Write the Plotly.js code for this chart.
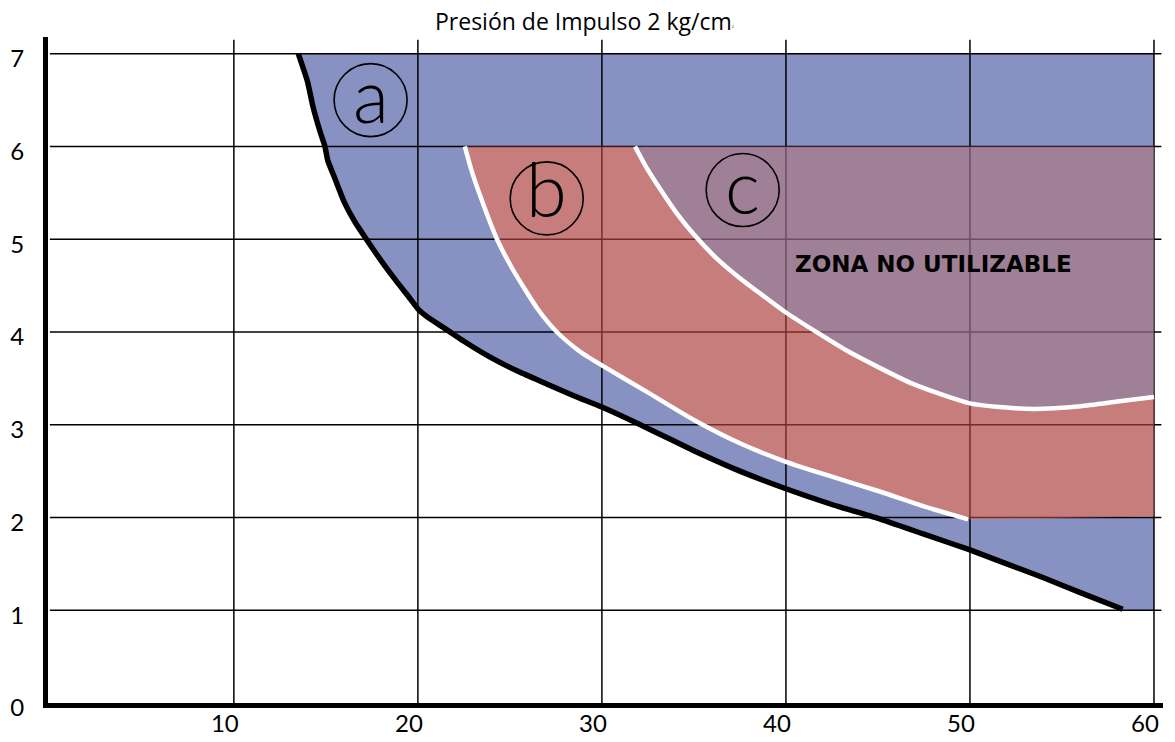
<!DOCTYPE html>
<html>
<head>
<meta charset="utf-8">
<script src="https://cdn.plot.ly/plotly-3.0.1.min.js"></script>
<style>html,body{margin:0;padding:0;background:#fff;}#chart{width:1175px;height:742px;}</style>
</head>
<body>
<div id="chart"></div>
<script>
// ---- Data ----
// Black boundary curve (lower limit of zone a)
const limiteX = [13.5, 14.0, 14.3, 14.7, 14.95, 15.1, 15.5, 16.0, 16.6, 17.2, 18.0, 18.86, 19.5, 20.0, 20.6, 21.6, 22.5, 24.0, 25.5, 27.0, 28.5, 30.0, 32.5, 35.0, 37.5, 40.0, 42.5, 45.0, 47.5, 50.0, 52.0, 54.0, 56.0, 58.3];
const limiteY = [7.0, 6.7, 6.43, 6.15, 6.0, 5.85, 5.65, 5.4, 5.18, 5.0, 4.77, 4.54, 4.38, 4.25, 4.15, 4.02, 3.90, 3.72, 3.57, 3.44, 3.31, 3.19, 2.96, 2.72, 2.50, 2.31, 2.14, 1.99, 1.82, 1.65, 1.50, 1.35, 1.19, 1.01];
// White curve between zone a and zone b
const curvaBX = [22.55, 22.9, 23.4, 24.3, 25.2, 26.5, 27.55, 28.8, 30.0, 32.4, 35.1, 37.5, 40.0, 42.5, 45.1, 47.5, 49.9];
const curvaBY = [6.0, 5.75, 5.46, 5.0, 4.66, 4.25, 4.0, 3.79, 3.64, 3.36, 3.04, 2.80, 2.60, 2.44, 2.28, 2.12, 1.98];
// Lower edge of zone b after the white curve ends
const bordeBX = [50.0, 60.0];
const bordeBY = [1.98, 2.01];
// White curve between zone b and zone c
const curvaCX = [31.8, 32.4, 33.2, 34.1, 35.0, 36.2, 37.5, 38.7, 40.0, 43.3, 46.9, 50.0, 51.6, 53.5, 56.0, 58.0, 60.0];
const curvaCY = [6.0, 5.78, 5.53, 5.27, 5.05, 4.80, 4.58, 4.40, 4.21, 3.80, 3.44, 3.23, 3.19, 3.17, 3.20, 3.25, 3.30];
// Zone limits
const zonaTopA = 7;
const zonaTopBC = 6;
const xMax = 60;
const yBaseA = 1.0;
// Ticks
const xTicks = [10, 20, 30, 40, 50, 60];
const xTickText = ['10', '20', '30', '40', '50', '60'];
const yTicks = [0, 1, 2, 3, 4, 5, 6, 7];
const yTickText = ['0', '1', '2', '3', '4', '5', '6', '7'];
// Labels
const etiquetas = ['a', 'b', 'c'];
const titulo = 'Presión de Impulso 2 kg/cm<span style="font-size:5px"><sup>2</sup></span>';
const zonaTexto = 'ZONA NO UTILIZABLE';

// ---- Build polygons ----
const rev = a => a.slice().reverse();
const last = a => a[a.length - 1];

// Zone a (blue)
const aX = [limiteX[0], xMax, xMax, curvaBX[0]].concat(curvaBX, bordeBX, [xMax, last(limiteX)], rev(limiteX));
const aY = [zonaTopA, zonaTopA, zonaTopBC, zonaTopBC].concat(curvaBY, bordeBY, [yBaseA, yBaseA], rev(limiteY));
// Zone b (red)
const bX = curvaBX.concat(bordeBX, [last(curvaCX)], rev(curvaCX), [curvaBX[0]]);
const bY = curvaBY.concat(bordeBY, [last(curvaCY)], rev(curvaCY), [curvaBY[0]]);
// Zone c (purple)
const cX = [curvaCX[0], xMax].concat(rev(curvaCX));
const cY = [zonaTopBC, zonaTopBC].concat(rev(curvaCY));

// Grid lines (drawn over zone a, under zones b and c)
const gX = [], gY = [];
xTicks.forEach(v => { gX.push(v, v, null); gY.push(0, 7.15, null); });
yTicks.filter(v => v > 0).forEach(v => { gX.push(0, 60.4, null); gY.push(v, v, null); });

const traces = [
  {x: aX, y: aY, type: 'scatter', mode: 'lines', fill: 'toself', fillcolor: '#8791c2', line: {width: 0, color: '#8791c2'}, hoverinfo: 'skip', showlegend: false},
  {x: gX, y: gY, type: 'scatter', mode: 'lines', line: {width: 1.5, color: '#000'}, hoverinfo: 'skip', showlegend: false},
  {x: bX, y: bY, type: 'scatter', mode: 'lines', fill: 'toself', fillcolor: 'rgba(172,64,60,0.68)', line: {width: 0}, hoverinfo: 'skip', showlegend: false},
  {x: cX, y: cY, type: 'scatter', mode: 'lines', fill: 'toself', fillcolor: 'rgba(136,96,124,0.8)', line: {width: 0}, hoverinfo: 'skip', showlegend: false},
  {x: curvaBX, y: curvaBY, type: 'scatter', mode: 'lines', line: {width: 4.5, color: '#fff', shape: 'spline', smoothing: 0.6}, hoverinfo: 'skip', showlegend: false},
  {x: curvaCX, y: curvaCY, type: 'scatter', mode: 'lines', line: {width: 4.5, color: '#fff', shape: 'spline', smoothing: 0.6}, hoverinfo: 'skip', showlegend: false},
  {x: limiteX, y: limiteY, type: 'scatter', mode: 'lines', line: {width: 5.5, color: '#000', shape: 'spline', smoothing: 0.5}, hoverinfo: 'skip', showlegend: false}
];

const labelPos = [[17.43, 6.50], [27.0, 5.44], [37.65, 5.53]];
const labelShift = [6, 10, 5];
const shapes = labelPos.map(p => ({
  type: 'circle', xref: 'x', yref: 'y', xsizemode: 'pixel', ysizemode: 'pixel',
  xanchor: p[0], yanchor: p[1], x0: -36.5, x1: 36.5, y0: -36.5, y1: 36.5,
  line: {color: '#000', width: 1.6}, layer: 'above'
}));
const annotations = etiquetas.map((t, i) => ({
  x: labelPos[i][0], y: labelPos[i][1], xref: 'x', yref: 'y', text: t, showarrow: false,
  xanchor: 'center', yanchor: 'middle', yshift: labelShift[i],
  font: {family: 'Lato', size: 74, color: '#000', weight: 300}
}));
annotations.push({
  x: 48.0, y: 4.73, xref: 'x', yref: 'y', text: zonaTexto, showarrow: false,
  xanchor: 'center', yanchor: 'middle', font: {family: 'DejaVu Sans', size: 23, color: '#000', weight: 'bold'}
});

const layout = {
  width: 1175, height: 742,
  margin: {l: 48, r: 12, t: 37, b: 39, pad: 0},
  paper_bgcolor: '#fff', plot_bgcolor: '#fff',
  font: {family: 'Lato', color: '#000'},
  title: {text: titulo, x: 435 / 1175, xref: 'container', xanchor: 'left', y: 1 - 22 / 742, yref: 'container', yanchor: 'middle', font: {family: 'Open Sans', size: 23, color: '#000'}},
  xaxis: {range: [-0.1, 60.49], showgrid: false, zeroline: false, showline: true, linewidth: 5, linecolor: '#000',
    tickvals: xTicks, ticktext: xTickText, ticks: '', ticklabelshift: -9, ticklabelstandoff: -5,
    tickfont: {family: 'Lato', size: 24, color: '#000'}, fixedrange: true},
  yaxis: {range: [0, 7.18], showgrid: false, zeroline: false, showline: true, linewidth: 5, linecolor: '#000',
    tickvals: yTicks, ticktext: yTickText, ticks: '', ticklabelshift: 5, ticklabelstandoff: 14,
    tickfont: {family: 'Lato', size: 24, color: '#000'}, fixedrange: true},
  shapes: shapes,
  annotations: annotations,
  showlegend: false
};

Plotly.newPlot('chart', traces, layout, {displayModeBar: false, staticPlot: true});
</script>
</body>
</html>
